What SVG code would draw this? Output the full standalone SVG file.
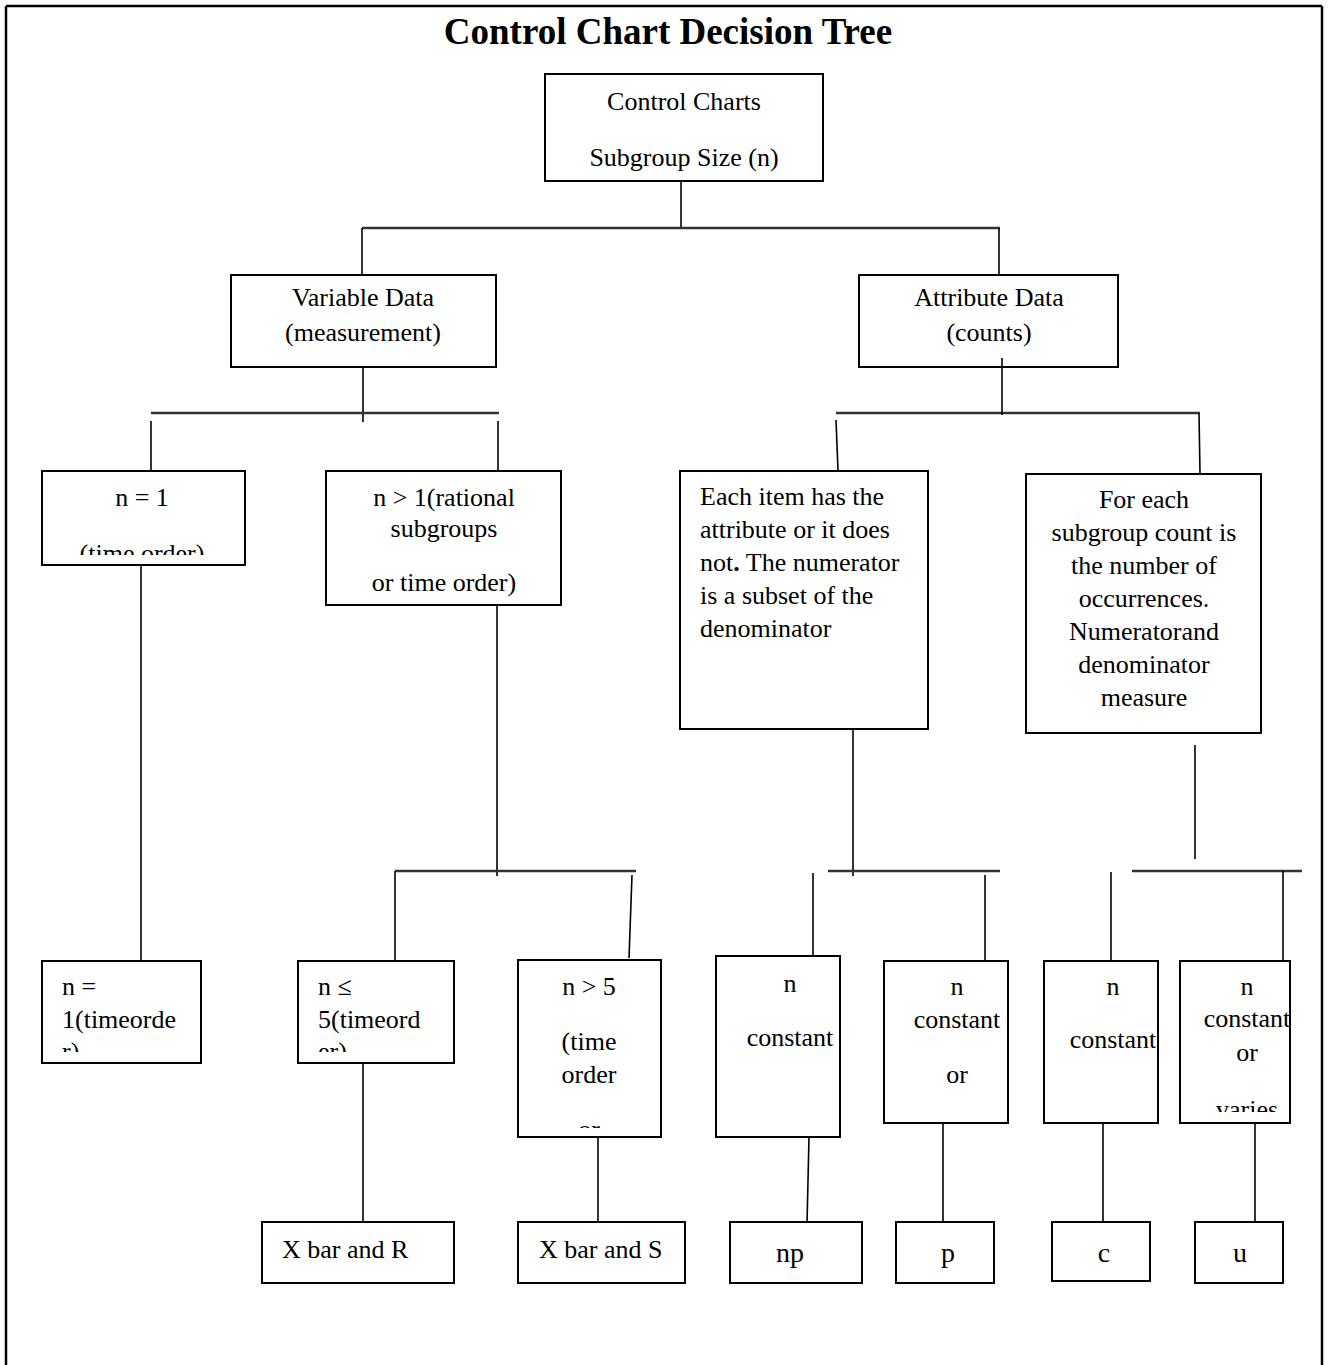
<svg xmlns="http://www.w3.org/2000/svg" width="1328" height="1365" viewBox="0 0 1328 1365">
<style>
.box{fill:#fff;stroke:#000;stroke-width:2}
.t{font-family:"Liberation Serif","Times New Roman",serif;font-size:26px;fill:#000}
.c{text-anchor:middle}
.big{font-size:28px}
.title{font-family:"Liberation Serif","Times New Roman",serif;font-size:37px;font-weight:bold;text-anchor:middle;fill:#000}
.conn line{stroke:#000;stroke-width:1.6}
.conn line.bar{stroke:#333;stroke-width:2.5}
.frame line{stroke:#000;stroke-width:2.5}
</style>
<defs>
<clipPath id="clipN1"><rect x="42" y="471" width="203" height="84"/></clipPath>
<clipPath id="clipNT1"><rect x="42" y="961" width="159" height="91"/></clipPath>
<clipPath id="clipNLE5"><rect x="298" y="961" width="156" height="91"/></clipPath>
<clipPath id="clipNGT5"><rect x="518" y="960" width="143" height="168"/></clipPath>
<clipPath id="clipU"><rect x="1180" y="961" width="110" height="151"/></clipPath>
</defs>
<rect x="0" y="0" width="1328" height="1365" fill="#fff"/>
<g class="frame">
<line x1="6" y1="6" x2="1322" y2="6"/>
<line x1="6" y1="6" x2="6" y2="1365"/>
<line x1="1322" y1="6" x2="1322" y2="1365"/>
</g>
<text class="title" x="668" y="44">Control Chart Decision Tree</text>
<g class="conn">
<line x1="681" y1="181" x2="681" y2="228"/>
<line class="bar" x1="362" y1="228" x2="1000" y2="228"/>
<line x1="362" y1="228" x2="362" y2="275"/>
<line x1="999" y1="228" x2="999" y2="275"/>
<line x1="363" y1="367" x2="363" y2="422"/>
<line class="bar" x1="151" y1="413" x2="499" y2="413"/>
<line x1="151" y1="421" x2="151" y2="471"/>
<line x1="498" y1="421" x2="498" y2="471"/>
<line class="bar" x1="836" y1="413" x2="1200" y2="413"/>
<line x1="836" y1="420" x2="838" y2="471"/>
<line x1="1199" y1="413" x2="1200" y2="473"/>
<line x1="141" y1="566" x2="141" y2="961"/>
<line x1="497" y1="605" x2="497" y2="876"/>
<line class="bar" x1="395" y1="871" x2="636" y2="871"/>
<line x1="395" y1="871" x2="395" y2="961"/>
<line x1="632" y1="875" x2="629" y2="958"/>
<line x1="853" y1="729" x2="853" y2="876"/>
<line class="bar" x1="828" y1="871" x2="1000" y2="871"/>
<line x1="813" y1="873" x2="813" y2="959"/>
<line x1="985" y1="875" x2="985" y2="961"/>
<line x1="1195" y1="745" x2="1195" y2="859"/>
<line class="bar" x1="1132" y1="871" x2="1302" y2="871"/>
<line x1="1111" y1="872" x2="1111" y2="960"/>
<line x1="1283" y1="871" x2="1283" y2="960"/>
<line x1="363" y1="1063" x2="363" y2="1222"/>
<line x1="598" y1="1137" x2="598" y2="1222"/>
<line x1="809" y1="1137" x2="807" y2="1224"/>
<line x1="943" y1="1123" x2="943" y2="1222"/>
<line x1="1103" y1="1123" x2="1103" y2="1222"/>
<line x1="1255" y1="1123" x2="1255" y2="1222"/>
</g>
<g id="node-root">
<rect class="box" x="545" y="74" width="278" height="107"/>
<text class="t c" x="684" y="110">Control Charts</text>
<text class="t c" x="684" y="166">Subgroup Size (n)</text>
</g>
<g id="node-variable">
<rect class="box" x="231" y="275" width="265" height="92"/>
<text class="t c" x="363" y="306">Variable Data</text>
<text class="t c" x="363" y="341">(measurement)</text>
</g>
<g id="node-attribute">
<rect class="box" x="859" y="275" width="259" height="92"/>
<text class="t c" x="989" y="306">Attribute Data</text>
<text class="t c" x="989" y="341">(counts)</text>
</g>
<line x1="1002" y1="358" x2="1002" y2="415" stroke="#000" stroke-width="1.6"/>
<g id="node-n1">
<rect class="box" x="42" y="471" width="203" height="94"/>
<text class="t c" x="142" y="506">n = 1</text>
<text class="t c" x="142" y="562" clip-path="url(#clipN1)">(time order)</text>
</g>
<g id="node-ngt1">
<rect class="box" x="326" y="471" width="235" height="134"/>
<text class="t c" x="444" y="506">n &gt; 1(rational</text>
<text class="t c" x="444" y="537">subgroups</text>
<text class="t c" x="444" y="591">or time order)</text>
</g>
<g id="node-each">
<rect class="box" x="680" y="471" width="248" height="258"/>
<text class="t" x="700" y="505">Each item has the</text>
<text class="t" x="700" y="538">attribute or it does</text>
<text class="t" x="700" y="571">not<tspan font-weight="bold">.</tspan> The numerator</text>
<text class="t" x="700" y="604">is a subset of the</text>
<text class="t" x="700" y="637">denominator</text>
</g>
<g id="node-foreach">
<rect class="box" x="1026" y="474" width="235" height="259"/>
<text class="t c" x="1144" y="508">For each</text>
<text class="t c" x="1144" y="541">subgroup count is</text>
<text class="t c" x="1144" y="574">the number of</text>
<text class="t c" x="1144" y="607">occurrences.</text>
<text class="t c" x="1144" y="640">Numeratorand</text>
<text class="t c" x="1144" y="673">denominator</text>
<text class="t c" x="1144" y="706">measure</text>
</g>
<g id="node-n1-time">
<rect class="box" x="42" y="961" width="159" height="102"/>
<g clip-path="url(#clipNT1)">
<text class="t" x="62" y="995">n =</text>
<text class="t" x="62" y="1028">1(timeorde</text>
<text class="t" x="62" y="1060">r)</text>
</g>
</g>
<g id="node-nle5">
<rect class="box" x="298" y="961" width="156" height="102"/>
<g clip-path="url(#clipNLE5)">
<text class="t" x="318" y="995">n ≤</text>
<text class="t" x="318" y="1028">5(timeord</text>
<text class="t" x="318" y="1060">er)</text>
</g>
</g>
<g id="node-ngt5">
<rect class="box" x="518" y="960" width="143" height="177"/>
<g clip-path="url(#clipNGT5)">
<text class="t c" x="589" y="995">n &gt; 5</text>
<text class="t c" x="589" y="1050">(time</text>
<text class="t c" x="589" y="1083">order</text>
<text class="t c" x="589" y="1138">or</text>
</g>
</g>
<g id="node-np-cond">
<rect class="box" x="716" y="956" width="124" height="181"/>
<text class="t c" x="790" y="992">n</text>
<text class="t c" x="790" y="1046">constant</text>
</g>
<g id="node-p-cond">
<rect class="box" x="884" y="961" width="124" height="162"/>
<text class="t c" x="957" y="995">n</text>
<text class="t c" x="957" y="1028">constant</text>
<text class="t c" x="957" y="1083">or</text>
</g>
<g id="node-c-cond">
<rect class="box" x="1044" y="961" width="114" height="162"/>
<text class="t c" x="1113" y="995">n</text>
<text class="t c" x="1113" y="1048">constant</text>
</g>
<g id="node-u-cond">
<rect class="box" x="1180" y="961" width="110" height="162"/>
<g clip-path="url(#clipU)">
<text class="t c" x="1247" y="995">n</text>
<text class="t c" x="1247" y="1027">constant</text>
<text class="t c" x="1247" y="1061">or</text>
<text class="t c" x="1247" y="1118">varies</text>
</g>
</g>
<g id="node-xr">
<rect class="box" x="262" y="1222" width="192" height="61"/>
<text class="t" x="282" y="1258">X bar and R</text>
</g>
<g id="node-xs">
<rect class="box" x="518" y="1222" width="167" height="61"/>
<text class="t" x="539" y="1258">X bar and S</text>
</g>
<g id="node-np">
<rect class="box" x="730" y="1222" width="132" height="61"/>
<text class="t c big" x="790" y="1262">np</text>
</g>
<g id="node-p">
<rect class="box" x="896" y="1222" width="98" height="61"/>
<text class="t c big" x="948" y="1262">p</text>
</g>
<g id="node-c">
<rect class="box" x="1052" y="1222" width="98" height="59"/>
<text class="t c big" x="1104" y="1262">c</text>
</g>
<g id="node-u">
<rect class="box" x="1195" y="1222" width="88" height="61"/>
<text class="t c big" x="1240" y="1262">u</text>
</g>
</svg>
